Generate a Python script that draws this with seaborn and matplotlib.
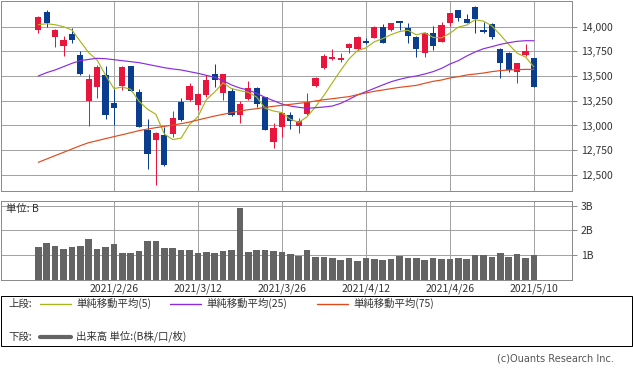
import numpy as np
import pandas as pd
import seaborn as sns
import matplotlib.pyplot as plt
from matplotlib.lines import Line2D
from matplotlib.patches import Rectangle

sns.set_style("white")
plt.rcParams['font.family'] = ['Noto Sans CJK JP', 'DejaVu Sans']

# daily candles (2021/2/12 .. 2021/5/10)
opens = [13966, 14148, 13899, 13804, 13926, 13713, 13251, 13393, 13511, 13224,
         13400, 13602, 13342, 12954, 12853, 12904, 12914, 13241, 13258, 13207,
         13309, 13521, 13332, 13352, 13106, 13268, 13376, 13285, 12836, 12988,
         13106, 12995, 13116, 13400, 13578, 13676, 13663, 13781, 13771, 13858,
         13889, 13993, 13966, 14054, 13983, 13899, 13730, 13933, 13848, 14040,
         14169, 14074, 14202, 13966, 14027, 13771, 13737, 13545, 13713, 13680]
highs = [14108, 14169, 13973, 13906, 13983, 13757, 13521, 13612, 13602, 13370,
         13600, 13605, 13366, 13062, 12938, 12988, 13147, 13275, 13433, 13325,
         13511, 13622, 13525, 13376, 13251, 13454, 13386, 13292, 13022, 13140,
         13140, 13072, 13325, 13487, 13723, 13771, 13737, 13831, 13906, 13882,
         14007, 14027, 14040, 14061, 14034, 13906, 13949, 14011, 14051, 14142,
         14169, 14128, 14209, 14051, 14034, 13781, 13747, 13636, 13825, 13680]
lows = [13933, 14000, 13798, 13703, 13838, 13515, 12995, 13275, 13062, 13010,
        13359, 13348, 12985, 12556, 12398, 12595, 12880, 13050, 13250, 13157,
        13292, 13386, 13258, 13100, 13029, 13258, 13190, 12950, 12769, 12880,
        12960, 12921, 13106, 13393, 13571, 13663, 13646, 13737, 13764, 13825,
        13882, 13831, 13960, 13966, 13838, 13690, 13690, 13764, 13842, 14007,
        14061, 14034, 13939, 13933, 13872, 13477, 13545, 13433, 13703, 13393]
closes = [14094, 14040, 13966, 13865, 13865, 13521, 13467, 13595, 13106, 13180,
          13595, 13352, 12988, 12711, 12921, 12600, 13072, 13056, 13400, 13319,
          13460, 13460, 13521, 13106, 13217, 13376, 13217, 12954, 12971, 13130,
          13049, 13049, 13241, 13477, 13703, 13690, 13680, 13825, 13892, 13838,
          14000, 13838, 14034, 14040, 13906, 13771, 13939, 13804, 14017, 14135,
          14084, 14040, 14074, 13949, 13892, 13629, 13562, 13629, 13754, 13393]

sma5 = [14020, 14030, 14020, 14000, 13966, 13851, 13737, 13663, 13511, 13374,
        13389, 13366, 13244, 13165, 13113, 12914, 12858, 12872, 13010, 13089,
        13261, 13339, 13432, 13373, 13353, 13336, 13287, 13174, 13147, 13130,
        13064, 13031, 13088, 13189, 13304, 13432, 13558, 13675, 13758, 13785,
        13847, 13879, 13920, 13950, 13964, 13918, 13938, 13892, 13887, 13933,
        13996, 14016, 14070, 14056, 14008, 13917, 13821, 13732, 13693, 13593]
sma25 = [13501, 13535, 13562, 13595, 13629, 13656, 13669, 13680, 13676, 13666,
         13656, 13646, 13636, 13619, 13602, 13585, 13572, 13562, 13545, 13528,
         13508, 13487, 13454, 13410, 13379, 13359, 13325, 13285, 13251, 13217,
         13197, 13184, 13174, 13180, 13187, 13197, 13224, 13265, 13309, 13342,
         13376, 13410, 13443, 13467, 13487, 13501, 13521, 13545, 13578, 13622,
         13656, 13703, 13744, 13777, 13798, 13821, 13838, 13852, 13858, 13858]
sma75 = [12627, 12661, 12695, 12728, 12762, 12796, 12826, 12846, 12867, 12887,
         12907, 12927, 12948, 12964, 12978, 12991, 13005, 13018, 13035, 13056,
         13076, 13096, 13113, 13130, 13147, 13160, 13170, 13184, 13194, 13204,
         13214, 13224, 13234, 13248, 13261, 13271, 13282, 13292, 13312, 13329,
         13346, 13359, 13373, 13386, 13396, 13406, 13427, 13447, 13460, 13481,
         13494, 13511, 13521, 13531, 13545, 13555, 13562, 13565, 13568, 13568]

volume = [1.34, 1.50, 1.37, 1.26, 1.34, 1.38, 1.66, 1.26, 1.34, 1.46,
          1.10, 1.10, 1.18, 1.58, 1.58, 1.30, 1.30, 1.22, 1.22, 1.10,
          1.14, 1.10, 1.18, 1.22, 2.91, 1.14, 1.22, 1.22, 1.18, 1.14,
          1.05, 0.96, 1.21, 0.93, 0.93, 0.89, 0.81, 0.89, 0.77, 0.89,
          0.85, 0.81, 0.85, 0.97, 0.89, 0.89, 0.81, 0.89, 0.85, 0.85,
          0.89, 0.85, 1.01, 1.01, 0.93, 1.09, 0.93, 1.05, 0.89, 1.01]

date_pos = [9, 19, 29, 39, 49, 59]
date_labels = ["2021/2/26", "2021/3/12", "2021/3/26", "2021/4/12", "2021/4/26", "2021/5/10"]
price_ticks = [12500, 12750, 13000, 13250, 13500, 13750, 14000]
vol_ticks = [1, 2, 3]

df = pd.DataFrame({"day": np.arange(len(closes)), "open": opens, "high": highs,
                   "low": lows, "close": closes, "sma5": sma5, "sma25": sma25,
                   "sma75": sma75, "volume": volume})

UP, DOWN = "#e8163c", "#0b3d8f"
C5, C25, C75 = "#a8b51c", "#8a2be2", "#e04a1c"
GRID = "#a3a3a3"
FRAME = "#8c8c8c"
TXT = "#333333"
PX = 0.72

W, H = 633, 371
fig = plt.figure(figsize=(W / 100, H / 100), dpi=100)

def fig_rect(x0, y0, x1, y1):
    return [x0 / W, 1 - y1 / H, (x1 - x0) / W, (y1 - y0) / H]

ax = fig.add_axes(fig_rect(0.5, 0.5, 571.7, 190.7))
ax2 = fig.add_axes(fig_rect(0.5, 201.3, 571.7, 280))

xlim = (-4.5, 63.5)

# --- price panel
up = df["close"] >= df["open"]
cols = np.where(up, UP, DOWN)
ax.vlines(df["day"], df["low"], df["high"], colors=cols, lw=1.0 * PX, zorder=3)
body_lo = np.minimum(df["open"], df["close"])
body_h = np.maximum(np.abs(df["close"] - df["open"]), 12)
ax.bar(df["day"], body_h, bottom=body_lo, width=0.72, color=cols, linewidth=0, zorder=4)

sns.lineplot(data=df, x="day", y="sma5", ax=ax, color=C5, lw=0.85, zorder=5)
sns.lineplot(data=df, x="day", y="sma25", ax=ax, color=C25, lw=0.85, zorder=5)
sns.lineplot(data=df, x="day", y="sma75", ax=ax, color=C75, lw=0.85, zorder=5)

ax.set_xlim(*xlim)
ax.set_ylim(12340, 14265)
ax.set_yticks(price_ticks)
ax.set_yticklabels([f"{v:,}" for v in price_ticks])
ax.set_xticks(date_pos)
ax.tick_params(axis="x", length=0, labelbottom=False)
ax.yaxis.tick_right()
ax.tick_params(axis="y", direction="out", length=5 * PX, width=PX, color=FRAME,
               pad=3, labelsize=7.5, labelcolor=TXT)
ax.grid(True, color=GRID, lw=PX, zorder=0)
ax.set_axisbelow(True)
ax.set_xlabel("")
ax.set_ylabel("")

# --- volume panel
sns.barplot(data=df, x="day", y="volume", ax=ax2, color="#646464", saturation=1,
            width=0.77, native_scale=True, linewidth=0, zorder=3)
ax2.set_xlim(*xlim)
ax2.set_ylim(0, 3.17)
ax2.set_yticks(vol_ticks)
ax2.set_yticklabels([f"{v}B" for v in vol_ticks])
ax2.set_xticks(date_pos)
ax2.set_xticklabels(date_labels)
ax2.yaxis.tick_right()
ax2.tick_params(axis="y", direction="out", length=5 * PX, width=PX, color=FRAME,
                pad=3, labelsize=7.5, labelcolor=TXT)
ax2.tick_params(axis="x", length=0, pad=2.5, labelsize=7.5, labelcolor=TXT)
ax2.grid(True, color=GRID, lw=PX, zorder=0)
ax2.set_axisbelow(True)
ax2.set_xlabel("")
ax2.set_ylabel("")
ax2.text(6 / 571.2, 1 - 8 / 78.7, "単位: B", transform=ax2.transAxes,
         fontsize=7.5, color=TXT, va="center", ha="left")

for a in (ax, ax2):
    for s in a.spines.values():
        s.set_color(FRAME)
        s.set_linewidth(PX)

# --- legend box
fig.add_artist(Rectangle((0.5 / W, 1 - 345.7 / H), 631.5 / W, 50 / H, fill=False,
                         edgecolor="black", lw=PX, transform=fig.transFigure))

def fx(x):
    return x / W

def fy(y):
    return 1 - y / H

row1, row2 = 303.5, 336.5
fig.text(fx(8), fy(row1), "上段:", fontsize=7.5, va="center", color=TXT)
for x0, c, lab in [(40, C5, "単純移動平均(5)"), (170, C25, "単純移動平均(25)"),
                   (317, C75, "単純移動平均(75)")]:
    fig.add_artist(Line2D([fx(x0), fx(x0 + 31)], [fy(row1), fy(row1)], color=c,
                          lw=1.0, transform=fig.transFigure))
    fig.text(fx(x0 + 36), fy(row1), lab, fontsize=7.5, va="center", color=TXT)

fig.text(fx(8), fy(row2), "下段:", fontsize=7.5, va="center", color=TXT)
fig.add_artist(Line2D([fx(40), fx(71)], [fy(row2), fy(row2)], color="#646464",
                      lw=3.0, transform=fig.transFigure))
fig.text(fx(76), fy(row2), "出来高 単位:(B株/口/枚)", fontsize=7.5, va="center", color=TXT)

fig.text(fx(614), fy(358.5), "(c)Ouants Research Inc.", fontsize=7, ha="right",
         va="center", color="#555555", family=["DejaVu Sans"])

fig.savefig("out.png", dpi=100)
